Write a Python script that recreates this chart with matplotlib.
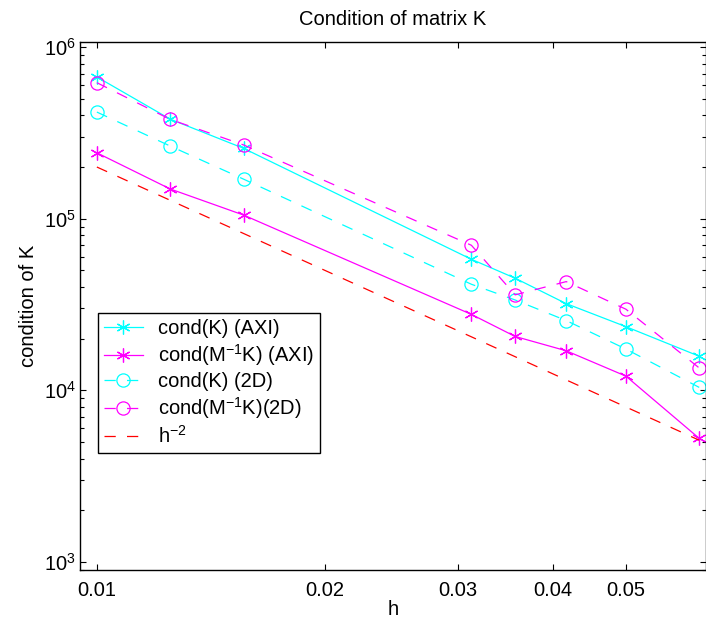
import matplotlib
matplotlib.use('Agg')
import matplotlib.pyplot as plt
from matplotlib.ticker import FixedLocator, NullLocator, LogLocator

plt.rcParams['font.family'] = ['Liberation Sans', 'DejaVu Sans']
plt.rcParams['mathtext.fontset'] = 'custom'
plt.rcParams['mathtext.rm'] = 'Liberation Sans'
plt.rcParams['mathtext.it'] = 'Liberation Sans:italic'
plt.rcParams['mathtext.bf'] = 'Liberation Sans:bold'

# mesh size h
h = [0.01, 0.0125, 0.015625, 0.03125, 0.0357, 0.0417, 0.05, 0.0625]
# condition numbers
cond_K_axi = [6.7e5, 3.8e5, 2.57e5, 5.8e4, 4.5e4, 3.2e4, 2.35e4, 1.58e4]
cond_MK_axi = [2.42e5, 1.49e5, 1.05e5, 2.77e4, 2.06e4, 1.70e4, 1.21e4, 5.25e3]
cond_K_2d = [4.18e5, 2.65e5, 1.70e5, 4.15e4, 3.36e4, 2.55e4, 1.74e4, 1.04e4]
cond_MK_2d = [6.2e5, 3.79e5, 2.69e5, 7.0e4, 3.6e4, 4.3e4, 2.97e4, 1.35e4]
h_ref = [2.0e5, 1.28e5, 8.2e4, 2.05e4, 1.57e4, 1.15e4, 8.0e3, 5.12e3]

xticks = [0.01, 0.02, 0.03, 0.04, 0.05]
xticklabels = ['0.01', '0.02', '0.03', '0.04', '0.05']

fs = 14.5
fig = plt.figure(figsize=(7.06, 6.24), dpi=100)
ax = fig.add_axes([80/706, 54/624, 626/706, 528/624])

star = (6, 2, 0)
dash = (9, 9)
ax.plot(h, cond_K_axi, color='cyan', lw=0.9, marker=star, ms=10, mew=0.9,
        label='cond(K) (AXI)')
ax.plot(h, cond_MK_axi, color='magenta', lw=0.9, marker=star, ms=10, mew=0.9,
        label=r'cond(M$^{-1}$K) (AXI)')
ax.plot(h, cond_K_2d, color='cyan', lw=0.9, ls='--', dashes=dash, marker='o',
        ms=9.5, mew=0.9, mfc='none', label='cond(K) (2D)')
ax.plot(h, cond_MK_2d, color='magenta', lw=0.9, ls='--', dashes=dash, marker='o',
        ms=9.5, mew=0.9, mfc='none', label=r'cond(M$^{-1}$K)(2D)')
ax.plot(h, h_ref, color='red', lw=0.9, ls='--', dashes=dash, label=r'h$^{-2}$')

ax.set_xscale('log')
ax.set_yscale('log')
ax.set_xlim(0.0095, 0.0638)
ax.set_ylim(898, 1.07e6)

ax.xaxis.set_major_locator(FixedLocator(xticks))
ax.set_xticklabels(xticklabels)
ax.xaxis.set_minor_locator(NullLocator())
ax.yaxis.set_major_locator(LogLocator(base=10, numticks=10))
ax.yaxis.set_minor_locator(LogLocator(base=10, subs=range(2, 10), numticks=20))

ax.tick_params(which='both', direction='in', top=True, right=True, labelsize=fs)
ax.tick_params(which='major', length=4, width=0.8)
ax.tick_params(which='minor', length=3, width=0.8)
ax.tick_params(axis='x', pad=8)
ax.tick_params(axis='y', pad=3)
for s in ax.spines.values():
    s.set_linewidth(1.0)

ax.set_title('Condition of matrix K', fontsize=fs, pad=12)
ax.set_xlabel('h', fontsize=fs, labelpad=0)
ax.set_ylabel('condition of K', fontsize=fs, labelpad=4)

leg = ax.legend(loc='upper left', bbox_to_anchor=(0.0292, 0.486), borderaxespad=0,
                fontsize=fs, fancybox=False, framealpha=1, edgecolor='black',
                handlelength=1.9, handletextpad=0.75, labelspacing=0.2,
                borderpad=0.3, numpoints=1)
leg.get_frame().set_linewidth(1.0)

fig.savefig('out.png', dpi=100)
